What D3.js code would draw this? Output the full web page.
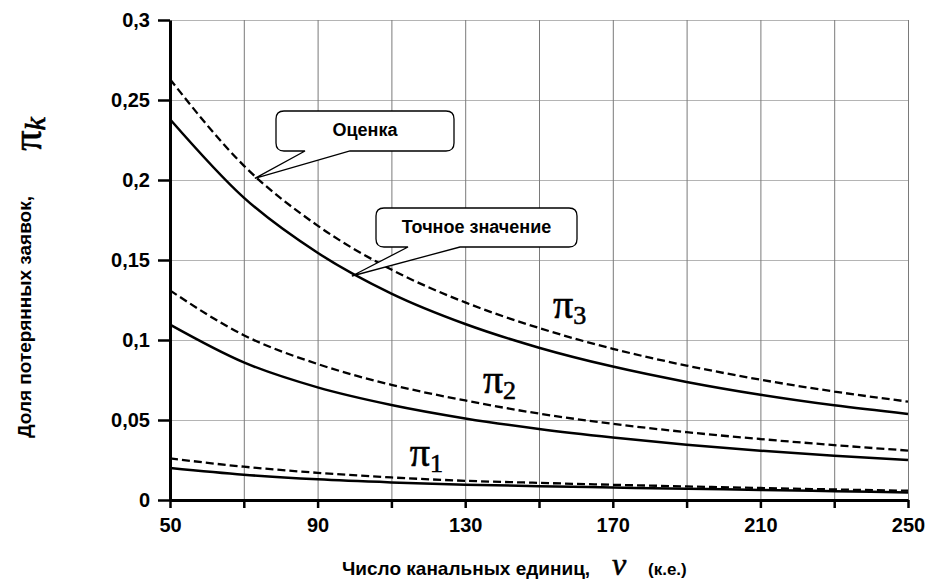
<!DOCTYPE html>
<html>
<head>
<meta charset="utf-8">
<script src="https://cdn.jsdelivr.net/npm/d3@7"></script>
<style>
  body { margin: 0; background: #fff; }
  svg { display: block; }
  text { font-family: "Liberation Sans", Arial, sans-serif; font-weight: bold; font-style: normal; fill: #000; }
  .serif { font-family: "Liberation Serif", "DejaVu Serif", serif; font-weight: normal; stroke: #000; stroke-width: 0.6; }
</style>
</head>
<body>
<div class="chart"></div>
<script>
// channel units, v
var vValues = [50, 70, 90, 110, 130, 150, 170, 190, 210, 230, 250];

// estimates (dashed) and exact values (solid)
var pi3Est   = [0.263, 0.209, 0.1715, 0.144, 0.1235, 0.1075, 0.0945, 0.084, 0.0752, 0.0678, 0.0615];
var pi3Exact = [0.238, 0.189, 0.1545, 0.129, 0.110, 0.0952, 0.0834, 0.0738, 0.0658, 0.0592, 0.0538];
var pi2Est   = [0.131, 0.103, 0.085, 0.072, 0.0622, 0.054, 0.0476, 0.0424, 0.0381, 0.0343, 0.0309];
var pi2Exact = [0.1096, 0.086, 0.0704, 0.0594, 0.051, 0.0444, 0.0391, 0.0346, 0.0308, 0.0277, 0.025];
var pi1Est   = [0.026, 0.0208, 0.017, 0.0141, 0.012, 0.0107, 0.0095, 0.0085, 0.0075, 0.0066, 0.0058];
var pi1Exact = [0.020, 0.0158, 0.0129, 0.011, 0.0096, 0.0086, 0.0078, 0.007, 0.0063, 0.0055, 0.0047];

var xTicks = [50, 70, 90, 110, 130, 150, 170, 190, 210, 230, 250];
var xTickLabels = [50, 90, 130, 170, 210, 250];
var yTicks = [0, 0.05, 0.1, 0.15, 0.2, 0.25, 0.3];
var yTickLabels = ["0", "0,05", "0,1", "0,15", "0,2", "0,25", "0,3"];

// curve labels: subscript, position in data units
var curveLabels = [
  {sub: "3", v: 153.8, val: 0.114},
  {sub: "2", v: 134.8, val: 0.067},
  {sub: "1", v: 115, val: 0.0214}
];

// callouts: text, point on curve
var callouts = [
  {text: "Оценка", v: 73, val: 0.201},
  {text: "Точное значение", v: 99.3, val: 0.140}
];

var width = 928, height = 582;
var mLeft = 170, mRight = 908, mTop = 20, mBottom = 500;

var svg = d3.select(".chart").append("svg")
    .attr("width", width)
    .attr("height", height);

var x = d3.scaleLinear().domain([50, 250]).range([mLeft, mRight]);
var y = d3.scaleLinear().domain([0, 0.3]).range([mBottom, mTop]);

// grid
svg.append("g").selectAll("line").data(yTicks.slice(1)).enter().append("line")
    .attr("x1", mLeft).attr("x2", mRight)
    .attr("y1", function(d){ return y(d) + 0.5; })
    .attr("y2", function(d){ return y(d) + 0.5; })
    .style("stroke", "#b4b4b4").style("stroke-width", 1);

svg.append("g").selectAll("line").data(xTicks.slice(1)).enter().append("line")
    .attr("x1", function(d){ return x(d) + 0.5; })
    .attr("x2", function(d){ return x(d) + 0.5; })
    .attr("y1", mTop).attr("y2", mBottom)
    .style("stroke", "#7a7a7a").style("stroke-width", 1);

// curves
var series = [
  {values: pi3Est, dash: true},
  {values: pi3Exact, dash: false},
  {values: pi2Est, dash: true},
  {values: pi2Exact, dash: false},
  {values: pi1Est, dash: true},
  {values: pi1Exact, dash: false}
];

var line = d3.line()
    .x(function(d, i){ return x(vValues[i]); })
    .y(function(d){ return y(d); })
    .curve(d3.curveMonotoneX);

svg.append("g").selectAll("path").data(series).enter().append("path")
    .attr("d", function(s){ return line(s.values); })
    .style("fill", "none")
    .style("stroke", "#000")
    .style("stroke-width", function(s){ return s.dash ? 2.3 : 2.5; })
    .style("stroke-dasharray", function(s){ return s.dash ? "8,4" : null; });

// axes
var xAxis = d3.axisBottom(x)
    .tickValues(xTicks)
    .tickSize(8)
    .tickSizeOuter(0)
    .tickPadding(10)
    .tickFormat(function(d){ return xTickLabels.indexOf(d) >= 0 ? d : ""; });

var yAxis = d3.axisLeft(y)
    .tickValues(yTicks)
    .tickSize(12)
    .tickSizeOuter(0)
    .tickPadding(8)
    .tickFormat(function(d, i){ return yTickLabels[i]; });

var gx = svg.append("g").attr("transform", "translate(0," + mBottom + ")").call(xAxis);
var gy = svg.append("g").attr("transform", "translate(" + mLeft + ",0)").call(yAxis);

[gx, gy].forEach(function(g){
  g.select(".domain").style("stroke", "#000").style("stroke-width", 3);
  g.selectAll(".tick line").style("stroke", "#000").style("stroke-width", 2.5);
  g.selectAll(".tick text").style("font-size", "20px")
      .style("font-family", "Liberation Sans, Arial, sans-serif").style("font-weight", "bold");
});

// callouts
function calloutPath(x0, y0, x1, y1, r, b0, b1, tx, ty){
  return "M" + (x0 + r) + "," + y0 +
    " H" + (x1 - r) + " Q" + x1 + "," + y0 + " " + x1 + "," + (y0 + r) +
    " V" + (y1 - r) + " Q" + x1 + "," + y1 + " " + (x1 - r) + "," + y1 +
    " H" + b1 + " L" + tx + "," + ty + " L" + b0 + "," + y1 +
    " H" + (x0 + r) + " Q" + x0 + "," + y1 + " " + x0 + "," + (y1 - r) +
    " V" + (y0 + r) + " Q" + x0 + "," + y0 + " " + (x0 + r) + "," + y0 + " Z";
}

var boxes = [
  {x0: 276, y0: 111, x1: 454, y1: 151, b0: 305, b1: 350},
  {x0: 376, y0: 208, x1: 577, y1: 247, b0: 408, b1: 460}
];

callouts.forEach(function(c, i){
  var b = boxes[i];
  svg.append("path")
      .attr("d", calloutPath(b.x0, b.y0, b.x1, b.y1, 8, b.b0, b.b1, x(c.v), y(c.val)))
      .style("fill", "#fff")
      .style("stroke", "#000")
      .style("stroke-width", 1.3);
  svg.append("text")
      .attr("x", (b.x0 + b.x1) / 2)
      .attr("y", b.y0 + 25)
      .attr("text-anchor", "middle")
      .style("font-size", "18px")
      .text(c.text);
});

// pi labels
curveLabels.forEach(function(l){
  var t = svg.append("text")
      .attr("class", "serif")
      .attr("x", x(l.v))
      .attr("y", y(l.val))
      .style("font-size", "40px");
  t.append("tspan").text("π");
  t.append("tspan").attr("dy", 6).attr("dx", 0).style("font-size", "26px").text(l.sub);
});

// axis titles
svg.append("text")
    .attr("transform", "translate(31,317) rotate(-90)")
    .attr("text-anchor", "middle")
    .style("font-size", "19px")
    .text("Доля потерянных заявок,");

var pk = svg.append("text")
    .attr("class", "serif")
    .attr("transform", "translate(41,134) rotate(-90)")
    .attr("text-anchor", "middle")
    .style("font-size", "40px");
pk.append("tspan").text("π");
pk.append("tspan").style("font-style", "italic").style("font-size", "30px").attr("dy", 4).text("k");

svg.append("text")
    .attr("x", 342).attr("y", 575)
    .style("font-size", "19px")
    .text("Число канальных единиц,");

svg.append("text")
    .attr("class", "serif")
    .attr("x", 612).attr("y", 575)
    .style("font-size", "32px")
    .style("font-style", "italic")
    .text("v");

svg.append("text")
    .attr("x", 648).attr("y", 575)
    .style("font-size", "17px")
    .text("(к.е.)");
</script>
</body>
</html>
